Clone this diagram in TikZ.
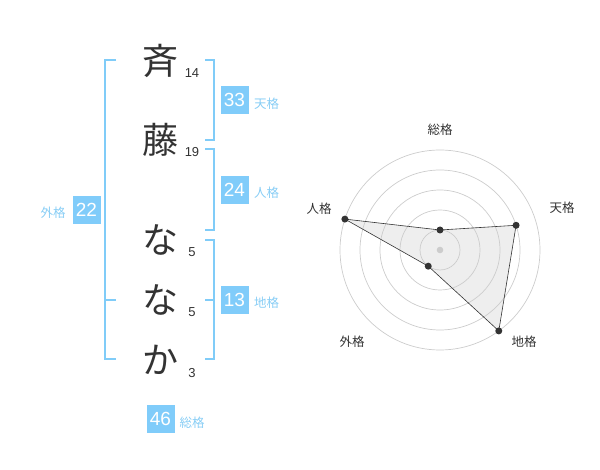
\documentclass[tikz,border=0pt]{standalone}
\usepackage{fontspec}
\usetikzlibrary{calc}
\setmainfont{Liberation Sans}
\newfontfamily\jp{Noto Sans CJK JP}
\definecolor{brblue}{RGB}{128,204,248}
\definecolor{boxblue}{RGB}{128,204,250}
\definecolor{lblblue}{RGB}{135,205,245}
\definecolor{ink}{RGB}{51,51,51}
\definecolor{ring}{RGB}{204,204,204}
\definecolor{area}{RGB}{238,238,238}
\tikzset{
  kanji/.style={font=\jp\fontsize{36}{36}\selectfont, text=ink, inner sep=0pt, anchor=center},
  strokes/.style={font=\fontsize{13}{13}\selectfont, text=ink, inner sep=0pt},
  br/.style={draw=brblue, line width=1.6pt},
  numbox/.style={fill=boxblue, text=white, minimum width=28pt, minimum height=28pt, inner sep=0pt, font=\fontsize{19}{19}\selectfont},
  kaku/.style={text=lblblue, inner sep=0pt, font=\jp\fontsize{12.5}{12.5}\selectfont},
  axlbl/.style={text=ink, inner sep=0pt, font=\jp\fontsize{12.5}{12.5}\selectfont},
  dot/.style={circle, fill=ink, inner sep=0pt, minimum size=7pt},
}
\begin{document}
\begin{tikzpicture}[x=1pt,y=-1pt]
\useasboundingbox (0,0) rectangle (600,470);
% name characters
\node[kanji] (c1) at (160,61) {斉};
\node[kanji] (c2) at (160,140) {藤};
\node[kanji] (c3) at (160,240) {な};
\node[kanji] (c4) at (160,300) {な};
\node[kanji] (c5) at (160,360) {か};
\node[strokes] (s1) at (192,73) {14};
\node[strokes] (s2) at (192,152) {19};
\node[strokes] (s3) at (192,252) {5};
\node[strokes] (s4) at (192,312) {5};
\node[strokes] (s5) at (192,373) {3};
% brackets
\draw[br] (116,60) -- (105,60) -- (105,359) -- (116,359);
\draw[br] (105,300) -- (116,300);
\draw[br] (205,60) -- (214,60) -- (214,140) -- (205,140);
\draw[br] (205,149) -- (214,149) -- (214,230) -- (205,230);
\draw[br] (205,240) -- (214,240) -- (214,359) -- (205,359);
\draw[br] (205,300) -- (214,300);
% boxes
\node[numbox] (b22) at (86.5,210) {22};
\node[kaku] (l22) at (53,213) {外格};
\node[numbox] (b33) at (234.5,100) {33};
\node[kaku, anchor=west] (l33) at (254,104) {天格};
\node[numbox] (b24) at (234.5,190) {24};
\node[kaku, anchor=west] (l24) at (254,193) {人格};
\node[numbox] (b13) at (234.5,300) {13};
\node[kaku, anchor=west] (l13) at (254,303) {地格};
\node[numbox] (b46) at (160.5,419) {46};
\node[kaku, anchor=west] (l46) at (179.5,422.5) {総格};
% radar chart
\coordinate (O) at (440,250);
\coordinate (pS) at ($(O)+(0,-20)$);
\coordinate (pT) at ($(O)+({80*cos(18)},{-80*sin(18)})$);
\coordinate (pC) at ($(O)+({100*cos(54)},{100*sin(54)})$);
\coordinate (pG) at ($(O)+({-20*cos(54)},{20*sin(54)})$);
\coordinate (pJ) at ($(O)+({-100*cos(18)},{-100*sin(18)})$);
\fill[area] (pS) -- (pT) -- (pC) -- (pG) -- (pJ) -- cycle;
\foreach \r in {20,40,60,80,100} \draw[ring, line width=0.7pt] (O) circle[radius=\r];
\fill[ring] (O) circle[radius=3.3];
\draw[ink, line width=0.6pt] (pS) -- (pT) -- (pC) -- (pG) -- (pJ) -- cycle;
\foreach \p in {pS,pT,pC,pG,pJ} \node[dot] at (\p) {};
\node[axlbl] (aS) at (440,130) {総格};
\node[axlbl] (aT) at (562,208) {天格};
\node[axlbl] (aJ) at (319,209) {人格};
\node[axlbl] (aG) at (352,342) {外格};
\node[axlbl] (aC) at (524,342) {地格};
\end{tikzpicture}
\end{document}
